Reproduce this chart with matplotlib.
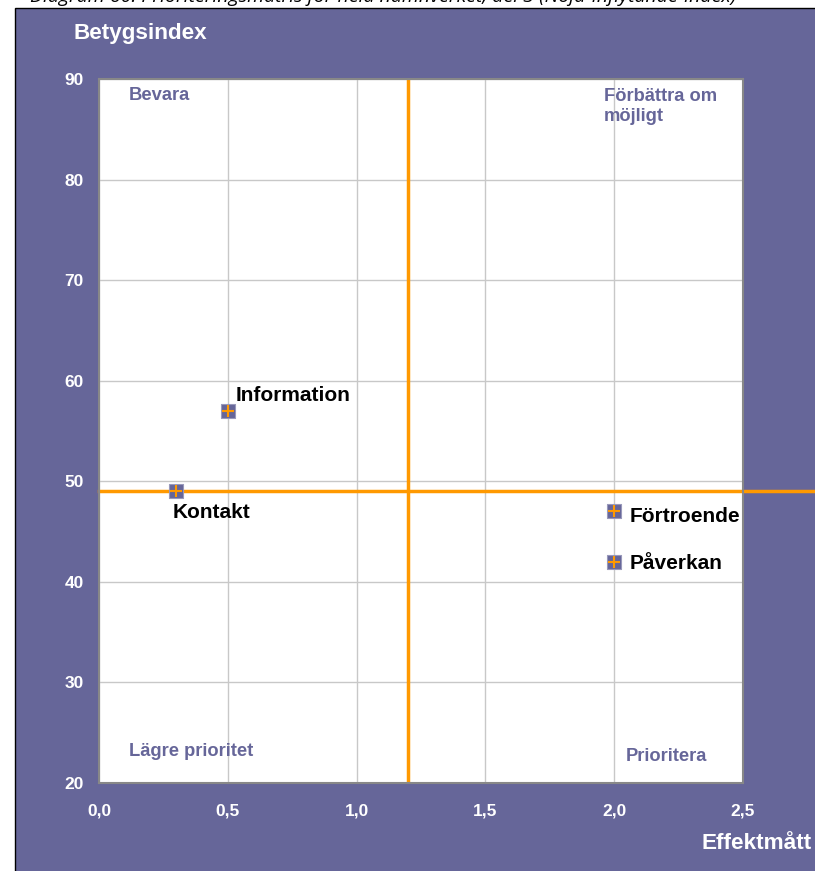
import matplotlib
matplotlib.use("Agg")
import matplotlib.pyplot as plt
from matplotlib.patches import Rectangle

# data
names = ["Information", "Kontakt", "Förtroende", "Påverkan"]
effekt = [0.5, 0.3, 2.0, 2.0]
betyg = [57, 49, 47, 42]
# label offsets in pixels (dx, dy)
label_dx = [8, -4, 15, 15]
label_dy = [15, -21, -5, -2]

x_split = 1.2
y_split = 49

x_ticks = [0.0, 0.5, 1.0, 1.5, 2.0, 2.5]
y_ticks = [20, 30, 40, 50, 60, 70, 80, 90]

purple = "#666699"
orange = "#FF9900"
font = "Liberation Sans"

fig = plt.figure(figsize=(8.15, 8.71), dpi=100)
fig.patch.set_facecolor("white")

# purple chart panel with black border on left/top
panel = Rectangle((15 / 815, -0.05), 1.0, 0.05 + (871 - 8) / 871,
                  transform=fig.transFigure, facecolor=purple,
                  edgecolor="black", linewidth=1.0, zorder=-5)
fig.patches.append(panel)

# cut-off caption above panel
fig.text(30 / 815, 1.0 + 3 / 871,
         "Diagram 60: Prioriteringsmatris för hela nämnverket, del 3 (Nöjd-Inflytande-Index)",
         fontsize=14, style="italic", family="Open Sans", va="center", ha="left",
         color="black")

ax = fig.add_axes([99 / 815, 88 / 871, 644 / 815, 704 / 871])
ax.set_zorder(2)
ax.set_facecolor("white")
ax.set_xlim(0, 2.5)
ax.set_ylim(20, 90)
ax.set_xticks(x_ticks)
ax.set_yticks(y_ticks)
ax.set_xticklabels([f"{v:.1f}".replace(".", ",") for v in x_ticks])
ax.set_yticklabels([str(v) for v in y_ticks])
ax.tick_params(length=0, labelcolor="white", labelsize=12.5)
ax.tick_params(axis="x", pad=15)
ax.tick_params(axis="y", pad=11)
for lab in ax.get_xticklabels() + ax.get_yticklabels():
    lab.set_fontweight("bold")
    lab.set_fontfamily(font)
ax.grid(True, color="#C8C8C8", linewidth=1.0)
ax.set_axisbelow(True)
for sp in ax.spines.values():
    sp.set_color("#888888")
    sp.set_linewidth(1.5)

# quadrant split lines
ax.axvline(x_split, color=orange, linewidth=2.5, zorder=2)
ax.plot([0, 2.5 * 716 / 644], [y_split, y_split], color=orange, linewidth=2.5,
        clip_on=False, zorder=2)

# points: purple square with orange plus
ax.scatter(effekt, betyg, marker="s", s=90, color=purple, edgecolor="#9999BB",
           linewidth=0.8, zorder=4)
ax.scatter(effekt, betyg, marker="+", s=70, color=orange, linewidth=1.5, zorder=5)

for n, x, y, dx, dy in zip(names, effekt, betyg, label_dx, label_dy):
    ax.annotate(n, (x, y), xytext=(dx, dy), textcoords="offset pixels",
                fontsize=15, fontweight="bold", family=font, color="black",
                ha="left", va="center", zorder=6)

# quadrant labels
qkw = dict(transform=ax.transAxes, color=purple, fontsize=13.2, fontweight="bold",
           family=font, ha="left")
ax.text(30 / 644, 1 - 17 / 704, "Bevara", va="center", **qkw)
ax.text(505 / 644, 1 - 9 / 704, "Förbättra om\nmöjligt", va="top",
        linespacing=1.25, **qkw)
ax.text(30 / 644, 32 / 704, "Lägre prioritet", va="center", **qkw)
ax.text(527 / 644, 27 / 704, "Prioritera", va="center", **qkw)

# axis titles
fig.text(140 / 815, 1 - 34 / 871, "Betygsindex", color="white", fontsize=16.2,
         fontweight="bold", family=font, ha="center", va="center")
fig.text(757 / 815, 1 - 843 / 871, "Effektmått", color="white", fontsize=16.2,
         fontweight="bold", family=font, ha="center", va="center")

fig.savefig("out.png", dpi=100)
